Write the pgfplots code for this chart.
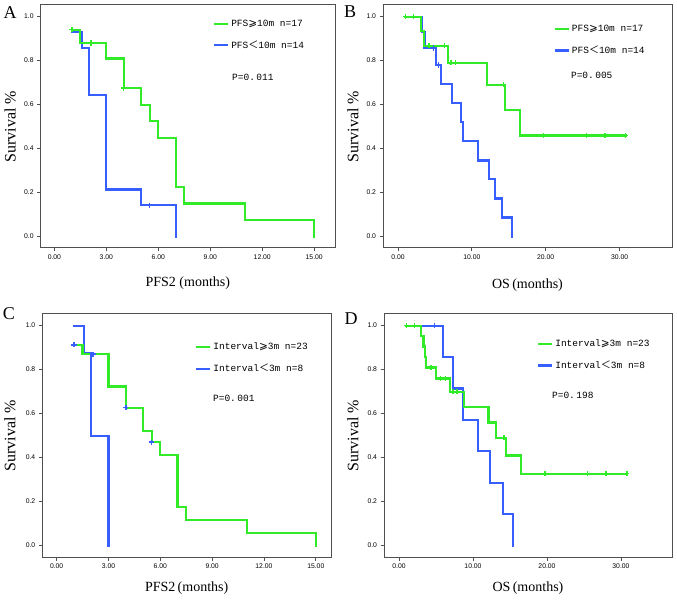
\documentclass[border=0pt]{standalone}
\usepackage{fontspec}
\setmainfont{Liberation Serif}
\newfontfamily\monof{Liberation Mono}
\newfontfamily\sansf{Liberation Sans}
\newfontfamily\dejavu{DejaVu Sans}
\newfontfamily\cjk{Noto Sans CJK SC}
\usepackage{pgfplots}
\pgfplotsset{compat=1.18}

\definecolor{kmgreen}{RGB}{50,235,40}
\definecolor{kmblue}{RGB}{55,95,255}
\definecolor{framegray}{RGB}{80,80,80}

\newcommand{\kmge}{{\dejavu\fontsize{10.5}{10}\selectfont ⩾}}
\newcommand{\kmlt}{{\cjk\fontsize{10}{10}\selectfont ＜}}
\newcommand{\pval}[1]{P=0.\kern1.5pt#1}

\pgfplotsset{
  legend image code/.code={\draw[#1] (0pt,0pt) -- (14pt,0pt);},
  km/.style={
    scale only axis, height=243pt,
    ymin=-0.052, ymax=1.053,
    ytick={0,0.2,0.4,0.6,0.8,1.0},
    xtick pos=bottom, ytick pos=left,
    tick align=outside, major tick length=3.5pt,
    axis line style={framegray, line width=1pt},
    tick style={framegray, line width=0.9pt},
    /pgf/number format/assume math mode=true,
    ticklabel style={font=\sansf\fontsize{6.8}{7}\selectfont},
    yticklabel style={/pgf/number format/.cd, fixed, fixed zerofill, precision=1},
    xticklabel style={/pgf/number format/.cd, fixed, fixed zerofill, precision=2},
    xlabel style={font=\fontsize{14}{16}\selectfont},
    ylabel style={font=\fontsize{16}{18}\selectfont},
    legend style={draw=none, fill=none, anchor=west, inner xsep=0pt,
      font=\monof\fontsize{9.5}{10}\selectfont, row sep=9pt},
    legend cell align=left,
    const plot,
  },
  gline/.style={color=kmgreen, line width=2.2pt, line cap=rect},
  bline/.style={color=kmblue, line width=2.2pt, line cap=rect},
  gcens/.style={only marks, mark=+, mark size=2.6pt, mark options={kmgreen, line width=1.6pt}},
  bcens/.style={only marks, mark=+, mark size=2.6pt, mark options={kmblue, line width=1.6pt}},
}

\begin{document}
\begin{tikzpicture}
\useasboundingbox (0,0) rectangle (677pt,600pt);

% A
\begin{axis}[km, at={(40.7pt,352pt)}, anchor=south west, width=294.3pt,
  xmin=-0.79, xmax=16.2, xtick={0,3,6,9,12,15},
  xlabel={PFS2 (months)}, ylabel={Survival \%},
  x label style={at={(axis description cs:0.5,-0.144)}, anchor=center},
  y label style={at={(axis description cs:-0.104,0.5)}, anchor=center},
  legend style={at={(0.585,0.877)}}]
\addplot[bline, forget plot] coordinates {(1,0.929) (1.6,0.857) (2,0.643) (3,0.214) (5,0.143) (7,0)};
\addplot[bcens, forget plot] coordinates {(5.5,0.143)};
\addplot[gline, forget plot] coordinates {(1,0.941) (1.5,0.88) (3,0.81) (4,0.675) (5,0.60) (5.5,0.525) (6,0.45) (7,0.225) (7.5,0.15) (11,0.075) (15,0)};
\addplot[gcens, forget plot] coordinates {(1,0.941) (2.1,0.88) (4,0.675)};
\addlegendimage{draw=kmgreen, line width=2.2pt}\addlegendentry{PFS\kmge10m n=17}
\addlegendimage{draw=kmblue, line width=2.2pt}\addlegendentry{PFS\kmlt10m n=14}
\node[anchor=west, inner sep=0pt, font=\monof\fontsize{9.5}{10}\selectfont] at (rel axis cs:0.650,0.704) {\pval{011}};
\end{axis}

% B
\begin{axis}[km, at={(383pt,352pt)}, anchor=south west, width=289pt,
  xmin=-2.03, xmax=37.1, xtick={0,10,20,30},
  xlabel={OS\,(months)}, ylabel={Survival \%},
  x label style={at={(axis description cs:0.5,-0.152)}, anchor=center},
  y label style={at={(axis description cs:-0.104,0.5)}, anchor=center},
  legend style={at={(0.590,0.856)}}]
\addplot[bline, forget plot] coordinates {(1,1) (3.2,0.929) (3.6,0.857) (5.1,0.78) (5.8,0.693) (7.3,0.606) (8.5,0.52) (8.8,0.433) (10.8,0.346) (12.3,0.26) (13.1,0.173) (14.1,0.087) (15.4,0)};
\addplot[bcens, forget plot] coordinates {(4.8,0.857) (5.5,0.78)};
\addplot[gline, forget plot] coordinates {(1,1) (3.1,0.933) (3.5,0.867) (6.8,0.79) (12.1,0.69) (14.5,0.575) (16.5,0.46) (30.8,0.46)};
\addplot[gcens, forget plot] coordinates {(1,1) (2.1,1) (4.2,0.867) (6.3,0.867) (7.2,0.79) (7.8,0.79) (14.3,0.69) (19.7,0.46) (25.5,0.46) (28,0.46) (30.8,0.46)};
\addlegendimage{draw=kmgreen, line width=2.2pt}\addlegendentry{PFS\kmge10m n=17}
\addlegendimage{draw=kmblue, line width=2.2pt}\addlegendentry{PFS\kmlt10m n=14}
\node[anchor=west, inner sep=0pt, font=\monof\fontsize{9.5}{10}\selectfont] at (rel axis cs:0.65,0.712) {\pval{005}};
\end{axis}

% C
\begin{axis}[km, at={(42.3pt,43pt)}, anchor=south west, width=288.7pt,
  xmin=-0.83, xmax=15.88, xtick={0,3,6,9,12,15},
  xlabel={PFS2\,(months)}, ylabel={Survival \%},
  x label style={at={(axis description cs:0.5,-0.128)}, anchor=center},
  y label style={at={(axis description cs:-0.112,0.5)}, anchor=center},
  legend style={at={(0.529,0.818)}}]
\addplot[bline, forget plot] coordinates {(1,1) (1.6,0.875) (2,0.5) (3,0)};
\addplot[gline, forget plot] coordinates {(1,0.913) (1.5,0.87) (3,0.723) (4,0.627) (5,0.522) (5.5,0.47) (6,0.411) (7,0.176) (7.5,0.117) (11,0.058) (15,0)};
\addplot[bcens, forget plot] coordinates {(1,0.913) (2.1,0.87) (4,0.627) (5.5,0.47)};
\addlegendimage{draw=kmgreen, line width=2.2pt}\addlegendentry{Interval\kmge3m n=23}
\addlegendimage{draw=kmblue, line width=2.2pt}\addlegendentry{Interval\kmlt3m n=8}
\node[anchor=west, inner sep=0pt, font=\monof\fontsize{9.5}{10}\selectfont] at (rel axis cs:0.591,0.654) {\pval{001}};
\end{axis}

% D
\begin{axis}[km, at={(384pt,43pt)}, anchor=south west, width=288pt,
  xmin=-2.03, xmax=36.9, xtick={0,10,20,30},
  xlabel={OS\,(months)}, ylabel={Survival \%},
  x label style={at={(axis description cs:0.5,-0.128)}, anchor=center},
  y label style={at={(axis description cs:-0.108,0.5)}, anchor=center},
  legend style={at={(0.531,0.832)}}]
\addplot[bline, forget plot] coordinates {(1,1) (5.9,0.857) (7.3,0.714) (8.6,0.571) (10.7,0.429) (12.3,0.286) (14.1,0.143) (15.4,0)};
\addplot[bcens, forget plot] coordinates {(4.8,1)};
\addplot[gline, forget plot] coordinates {(1,1) (3,0.952) (3.3,0.905) (3.5,0.857) (3.7,0.81) (5,0.76) (6.9,0.70) (8.8,0.63) (12.1,0.56) (13.1,0.49) (14.5,0.41) (16.5,0.327) (30.8,0.327)};
\addplot[gcens, forget plot] coordinates {(1,1) (2.1,1) (4.3,0.81) (5.6,0.76) (6.3,0.76) (7.3,0.70) (7.8,0.70) (14.2,0.49) (19.7,0.327) (25.5,0.327) (28,0.327) (30.8,0.327)};
\addlegendimage{draw=kmgreen, line width=2.2pt}\addlegendentry{Interval\kmge3m n=23}
\addlegendimage{draw=kmblue, line width=2.2pt}\addlegendentry{Interval\kmlt3m n=8}
\node[anchor=west, inner sep=0pt, font=\monof\fontsize{9.5}{10}\selectfont] at (rel axis cs:0.583,0.667) {\pval{198}};
\end{axis}

\node[font=\fontsize{18}{18}\selectfont] at (10pt,587pt) {A};
\node[font=\fontsize{18}{18}\selectfont] at (350pt,588pt) {B};
\node[font=\fontsize{18}{18}\selectfont] at (9pt,286pt) {C};
\node[font=\fontsize{18}{18}\selectfont] at (351pt,281pt) {D};
\end{tikzpicture}
\end{document}
